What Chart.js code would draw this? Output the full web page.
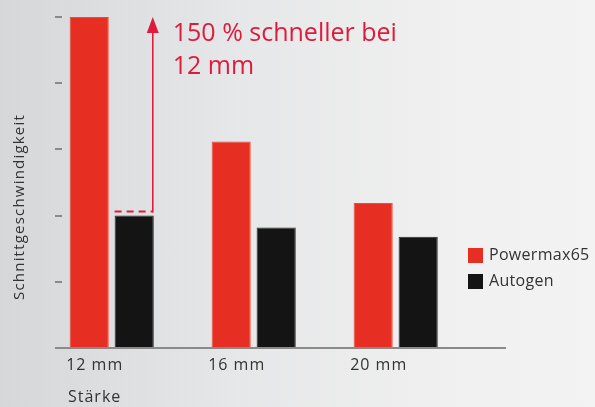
<!DOCTYPE html>
<html>
<head>
<meta charset="utf-8">
<script src="https://cdn.jsdelivr.net/npm/chart.js@4.4.0/dist/chart.umd.min.js"></script>
<style>
  html, body { margin: 0; padding: 0; }
  body {
    width: 595px; height: 407px;
    background: linear-gradient(to right, #d5d7d9 0%, #e6e7e8 40%, #f0f0f0 75%, #f3f3f3 100%);
  }
  #wrap { position: relative; width: 595px; height: 407px; }
</style>
</head>
<body>
<div id="wrap"><canvas id="myChart" width="595" height="407"></canvas></div>
<script>
var categories = ['12 mm', '16 mm', '20 mm'];
var powermax = [5.0, 3.12, 2.19];
var autogen = [2.0, 1.82, 1.68];
var seriesNames = ['Powermax65', 'Autogen'];
var yTicks = [0, 1, 2, 3, 4, 5];
var noteLines = ['150 % schneller bei', '12 mm'];

var font = '"Open Sans", "Noto Sans", sans-serif';
var red = '#e62e22';
var black = '#141414';
var noteRed = '#df1b3c';

// the source text is a bit spaced out
var spacing = {
    id: 'spacing',
    beforeDraw: function(chart) {
        chart.ctx.letterSpacing = '1px';
    }
};

// text, legend and the arrow note are drawn here
var extras = {
    id: 'extras',
    afterDatasetsDraw: function(chart) {
        var ctx = chart.ctx;
        var y = chart.scales.y;
        var bar = chart.getDatasetMeta(1).data[0];
        var left = bar.x - bar.width / 2;
        var right = bar.x + bar.width / 2;
        var yLow = y.getPixelForValue(autogen[0]) - 4;
        var yHigh = y.getPixelForValue(powermax[0]);

        ctx.save();
        ctx.strokeStyle = noteRed;
        ctx.lineWidth = 2;
        ctx.setLineDash([7, 5]);
        ctx.beginPath();
        ctx.moveTo(left, yLow);
        ctx.lineTo(right - 1, yLow);
        ctx.stroke();
        ctx.setLineDash([]);
        ctx.lineWidth = 1.6;
        ctx.beginPath();
        ctx.moveTo(right - 1, yLow + 1);
        ctx.lineTo(right - 1, yHigh + 12);
        ctx.stroke();
        ctx.fillStyle = noteRed;
        ctx.beginPath();
        ctx.moveTo(right - 1, yHigh);
        ctx.lineTo(right - 7, yHigh + 16);
        ctx.lineTo(right + 5, yHigh + 16);
        ctx.closePath();
        ctx.fill();

        ctx.letterSpacing = '0px';
        ctx.font = '25px ' + font;
        ctx.textBaseline = 'alphabetic';
        ctx.fillText(noteLines[0], right + 19, yHigh + 24);
        ctx.fillText(noteLines[1], right + 19, yHigh + 57);

        // y title
        ctx.fillStyle = '#333';
        ctx.letterSpacing = '1.2px';
        ctx.font = '15px ' + font;
        ctx.save();
        ctx.translate(20, 207);
        ctx.rotate(-Math.PI / 2);
        ctx.textAlign = 'center';
        ctx.textBaseline = 'middle';
        ctx.fillText('Schnittgeschwindigkeit', 0, 0);
        ctx.restore();

        // x title
        ctx.letterSpacing = '1px';
        ctx.textBaseline = 'middle';
        ctx.font = '16px ' + font;
        ctx.fillText('Stärke', 68, 397);

        // legend
        var colors = [red, black];
        ctx.letterSpacing = '0.3px';
        ctx.font = '16px ' + font;
        seriesNames.forEach(function(name, i) {
            var top = 248 + i * 26;
            ctx.fillStyle = colors[i];
            ctx.fillRect(468, top, 15, 15);
            ctx.fillStyle = '#333';
            ctx.fillText(name, 489, top + 7);
        });
        ctx.restore();
    }
};

var ctx = document.getElementById('myChart').getContext('2d');
var myChart = new Chart(ctx, {
    type: 'bar',
    data: {
        datasets: [{
            label: seriesNames[0],
            data: powermax.map(function(v, i) { return {x: i, y: v}; }),
            backgroundColor: red,
            borderColor: '#ee4a3c',
            borderWidth: 1
        }, {
            label: seriesNames[1],
            data: autogen.map(function(v, i) { return {x: i, y: v}; }),
            backgroundColor: black,
            borderColor: '#2a2a2a',
            borderWidth: 1
        }]
    },
    options: {
        responsive: false,
        animation: false,
        categoryPercentage: 0.634,
        barPercentage: 0.87,
        layout: { padding: { top: 17, right: 90, left: 0, bottom: 0 } },
        plugins: {
            legend: { display: false },
            tooltip: { enabled: false }
        },
        scales: {
            x: {
                type: 'linear',
                offset: false,
                bounds: 'data',
                min: -0.35,
                max: 2.77,
                afterFit: function(scale) { scale.height = 59; },
                afterBuildTicks: function(scale) {
                    scale.ticks = categories.map(function(c, i) { return {value: i}; });
                },
                grid: { display: false },
                border: { display: true, color: '#8a8a8a', width: 2 },
                ticks: {
                    callback: function(v) { return categories[v]; },
                    labelOffset: -17,
                    padding: 0,
                    color: '#333',
                    font: { family: font, size: 16 },
                    maxRotation: 0
                }
            },
            y: {
                min: 0,
                max: 5,
                afterFit: function(scale) { scale.width = 62; },
                afterBuildTicks: function(scale) {
                    scale.ticks = yTicks.map(function(v) { return {value: v}; });
                },
                grid: { drawOnChartArea: false, tickLength: 7, color: '#8a8a8a', lineWidth: 2 },
                border: { display: false },
                ticks: { display: false }
            }
        }
    },
    plugins: [spacing, extras]
});
</script>
</body>
</html>
